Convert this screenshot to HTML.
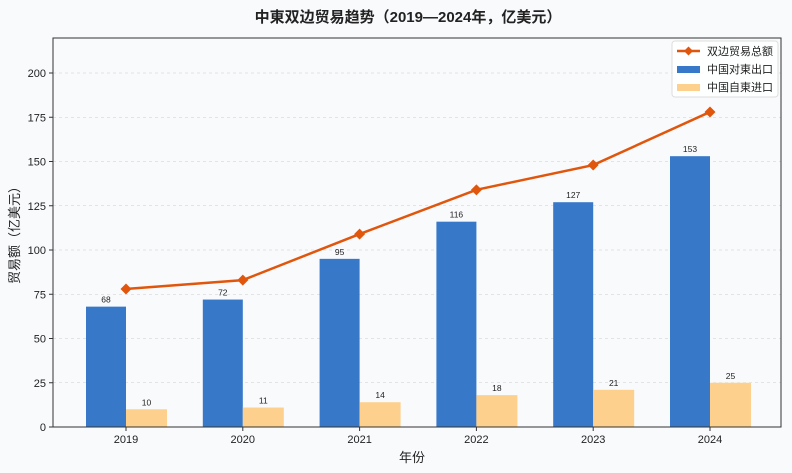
<!DOCTYPE html>
<html><head><meta charset="utf-8"><style>
body{margin:0;background:#f8fafc;}
svg{display:block;font-family:"Liberation Sans","Noto Sans CJK SC",sans-serif;}
</style></head><body>
<svg id="c" width="792" height="473">
<rect width="792" height="473" fill="#f8fafc"/>
<text x="408" y="22" text-anchor="middle" font-size="15" font-weight="bold" fill="#222">中東双边贸易趋势（2019—2024年，亿美元）</text>
<text x="412" y="462" text-anchor="middle" font-size="13" fill="#222">年份</text>
<text transform="translate(19,232) rotate(-90)" text-anchor="middle" font-size="13" fill="#222">贸易额（亿美元）</text>
<g id="plot"></g>
<rect x="53" y="38" width="728" height="389" fill="none" stroke="#333" stroke-width="1"/>
<g>
<rect x="672" y="41" width="106" height="56" rx="3" fill="#fff" fill-opacity="0.85" stroke="#ddd"/>
<line x1="677" y1="51" x2="700" y2="51" stroke="#e0560c" stroke-width="2.5"/>
<path d="M688.5 46.5 L693 51 L688.5 55.5 L684 51Z" fill="#e0560c"/>
<text x="707" y="55" font-size="11" fill="#222">双边贸易总额</text>
<rect x="677" y="66" width="23" height="7" fill="#3778c8"/>
<text x="707" y="73" font-size="11" fill="#222">中国对東出口</text>
<rect x="677" y="84" width="23" height="7" fill="#fdd08e"/>
<text x="707" y="91" font-size="11" fill="#222">中国自東进口</text>
</g>
</svg>
<script>
const years=["2019","2020","2021","2022","2023","2024"];
const exportsV=[68,72,95,116,127,153];
const importsV=[10,11,14,18,21,25];
const totals=[78,83,109,134,148,178];
const yTicks=[0,25,50,75,100,125,150,175,200];
const NS="http://www.w3.org/2000/svg";
const g=document.getElementById('plot');
const y=v=>427-v*1.77;
const x=i=>126+i*116.8;
function el(t,a){const e=document.createElementNS(NS,t);for(const k in a)e.setAttribute(k,a[k]);g.appendChild(e);return e;}
yTicks.forEach(t=>{
 if(t>0){const l=el('line',{x1:53,x2:781,y1:y(t),y2:y(t),stroke:'#ccc','stroke-width':0.6,'stroke-dasharray':'3,3'});
 
 }
 el('line',{x1:49,x2:53,y1:y(t),y2:y(t),stroke:'#333'});
 const tx=el('text',{x:46,y:y(t)+4,'text-anchor':'end','font-size':11,fill:'#222'});tx.textContent=t;
 
 
});
years.forEach((yr,i)=>{
 const b=el('rect',{x:x(i)-40,y:y(exportsV[i]),width:40,height:427-y(exportsV[i]),fill:'#3778c8'});
 
 
 const c=el('rect',{x:x(i),y:y(importsV[i]),width:41,height:427-y(importsV[i]),fill:'#fdd08e'});
 
 
 const t1=el('text',{x:x(i)-20,y:y(exportsV[i])-4,'text-anchor':'middle','font-size':8.5,fill:'#222'});t1.textContent=exportsV[i];
 
 
 const t2=el('text',{x:x(i)+20.5,y:y(importsV[i])-4,'text-anchor':'middle','font-size':8.5,fill:'#222'});t2.textContent=importsV[i];
 
 
 el('line',{x1:x(i),x2:x(i),y1:427,y2:431,stroke:'#333'});
 const xt=el('text',{x:x(i),y:443,'text-anchor':'middle','font-size':11,fill:'#222'});xt.textContent=yr;
 
 
});
const pl=el('polyline',{points:totals.map((v,i)=>x(i)+','+y(v)).join(' '),fill:'none',stroke:'#e0560c','stroke-width':2.5});


totals.forEach((v,i)=>{
 const m=el('path',{d:`M${x(i)} ${y(v)-5.5}L${x(i)+5.5} ${y(v)}L${x(i)} ${y(v)+5.5}L${x(i)-5.5} ${y(v)}Z`,fill:'#e0560c'});
 
 
});
</script>
</body></html>
